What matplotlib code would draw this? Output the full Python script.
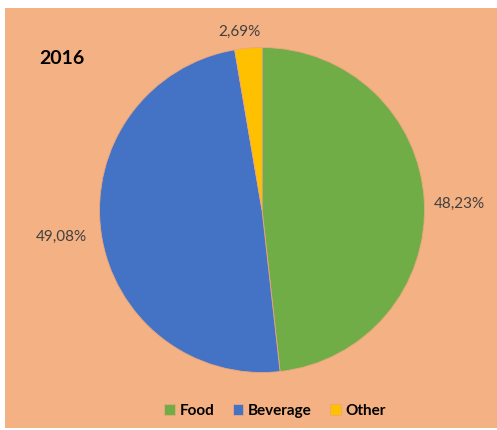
import matplotlib.pyplot as plt
from matplotlib.patches import Rectangle

categories = ["Food", "Beverage", "Other"]
shares = [48.23, 49.08, 2.69]
colors = ["#70AD47", "#4472C4", "#FFC000"]
year = "2016"


def fmt(v):
    return f"{v:.2f}%".replace(".", ",")


def plot_pie(save_path="out.png"):
    plt.rcParams["font.family"] = ["Lato", "DejaVu Sans"]
    fig = plt.figure(figsize=(4.97, 4.30), dpi=100, facecolor="white")
    # peach chart area, leaving the thin white strip at top and left
    fig.patches.append(Rectangle((5 / 497, 2 / 430), 1, 1 - 10 / 430,
                                 transform=fig.transFigure, facecolor="#F4B183",
                                 edgecolor="none", zorder=-10))

    ax = fig.add_axes([0.2002, 0.1337, 0.654, 0.7558])
    ax.set_facecolor("none")
    wedges, texts = ax.pie(shares, colors=colors, startangle=90, counterclock=False,
                           labels=[fmt(v) for v in shares], labeldistance=1.06,
                           wedgeprops=dict(edgecolor="#E9A77C", linewidth=0.6),
                           textprops=dict(fontsize=11, color="#404040"))
    # nudge the data labels to where Excel put them
    x, y = texts[0].get_position()
    texts[0].set_position((x, y - 0.02))
    x, y = texts[1].get_position()
    texts[1].set_position((x - 0.025, y - 0.02))
    texts[2].set_ha("center")
    x, y = texts[2].get_position()
    texts[2].set_position((x - 0.05, y + 0.04))
    ax.set_xlim(-1, 1)
    ax.set_ylim(-1, 1)
    ax.set_aspect("equal")

    fig.text(62 / 497, 1 - 58 / 430, year, fontsize=14, fontweight="bold",
             ha="center", va="center", color="black")

    fig.legend(wedges, categories, loc="center", bbox_to_anchor=(0.553, 0.044),
               ncol=3, frameon=False, handlelength=0.7, handleheight=0.7,
               handletextpad=0.3, columnspacing=1.2,
               prop=dict(size=11, weight="bold"))

    fig.savefig(save_path, dpi=100, facecolor="white")
    plt.close(fig)


if __name__ == "__main__":
    plot_pie()
